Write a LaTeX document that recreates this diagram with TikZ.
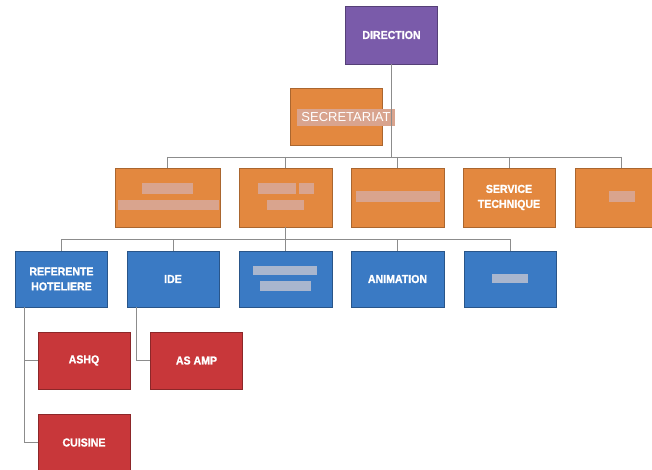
\documentclass[tikz,border=0pt]{standalone}
\usepackage{fontspec}
\setmainfont{Liberation Sans}
\newfontfamily\boxfont[FakeBold=1.2,FakeStretch=0.92]{Liberation Sans Bold}
\definecolor{cpurple}{HTML}{7A5BAA}
\definecolor{corange}{HTML}{E3883F}
\definecolor{cblue}{HTML}{3A7AC4}
\definecolor{cred}{HTML}{C8373A}
\definecolor{credor}{HTML}{D9A48E}
\definecolor{credbl}{HTML}{A9B6CE}
\definecolor{cline}{HTML}{8C8C8C}
\tikzset{
  box/.style={rectangle, minimum width=92pt, minimum height=57pt, inner sep=0pt,
    text=white, align=center, line width=0.6pt,
    font=\boxfont\fontsize{11.5}{15}\selectfont},
  purplebox/.style={box, fill=cpurple, draw=cpurple!70!black},
  orangebox/.style={box, fill=corange, draw=corange!75!black},
  bluebox/.style={box, fill=cblue, draw=cblue!70!black},
  redbox/.style={box, fill=cred, draw=cred!70!black},
  conn/.style={draw=cline, line width=0.8pt},
  redor/.style={fill=credor},
  redbl/.style={fill=credbl},
}
\begin{document}
\begin{tikzpicture}[x=1pt,y=-1pt]
\clip (0,0) rectangle (652,470);
\fill[white] (0,0) rectangle (652,470);

% level 0/1
\node[purplebox, minimum height=58pt] (dir) at (391.5,35) {DIRECTION};
\node[orangebox] (sec) at (336,116.5) {};
\node[fill=credor, text=white, inner sep=0pt, minimum width=98pt, minimum height=17pt,
      font=\fontsize{13}{15}\selectfont] (seclbl) at (346,117.5) {SECRETARIAT};

% level 2
\node[orangebox, minimum width=105pt, minimum height=59pt] (o1) at (167.5,197.5) {};
\node[orangebox, minimum width=93pt, minimum height=59pt] (o2) at (285.5,197.5) {};
\node[orangebox, minimum width=93pt, minimum height=59pt] (o3) at (397.5,197.5) {};
\node[orangebox, minimum height=59pt] (o4) at (509,197.5) {SERVICE\\TECHNIQUE};
\node[orangebox, minimum height=59pt] (o5) at (621,197.5) {};

% redacted labels on level 2
\fill[redor] (142,183) rectangle (193,194);
\fill[redor] (118,200) rectangle (219,210);
\fill[redor] (258,183) rectangle (296,194);
\fill[redor] (299,183) rectangle (314,194);
\fill[redor] (267,200) rectangle (304,210);
\fill[redor] (356,191) rectangle (440,202);
\fill[redor] (609,191) rectangle (635,202);

% level 3
\node[bluebox, minimum height=56pt] (b1) at (61.5,279) {REFERENTE\\HOTELIERE};
\node[bluebox, minimum height=56pt] (b2) at (173,279) {IDE};
\node[bluebox, minimum width=93pt, minimum height=56pt] (b3) at (285.5,279) {};
\node[bluebox, minimum width=93pt, minimum height=56pt] (b4) at (397.5,279) {ANIMATION};
\node[bluebox, minimum height=56pt] (b5) at (510,279) {};

\fill[redbl] (253,266) rectangle (317,275);
\fill[redbl] (260,281) rectangle (311,291);
\fill[redbl] (492,274) rectangle (528,283);

% level 4
\node[redbox] (r1) at (84,360.5) {ASHQ};
\node[redbox] (r2) at (196.5,360.5) {AS AMP};
\node[redbox] (r3) at (84,442.5) {CUISINE};

% connectors
\coordinate (busA) at (391.5,157);
\coordinate (busB) at (285.5,239);
\coordinate (lA) at (24,307);
\coordinate (lB) at (136,307);

\draw[conn] (dir.south) -- (busA);
\draw[conn] (o1.north |- busA) -- (o5.north |- busA);
\foreach \n in {o1,o2,o3,o4,o5} \draw[conn] (\n.north |- busA) -- (\n.north);

\draw[conn] (o2.south) -- (busB);
\draw[conn] (b1.north |- busB) -- (b5.north |- busB);
\foreach \n in {b1,b2,b3,b4,b5} \draw[conn] (\n.north |- busB) -- (\n.north);

\draw[conn] (lA) -- (lA |- r3.west) -- (r3.west);
\draw[conn] (lA |- r1.west) -- (r1.west);
\draw[conn] (lB) -- (lB |- r2.west) -- (r2.west);
\end{tikzpicture}
\end{document}
